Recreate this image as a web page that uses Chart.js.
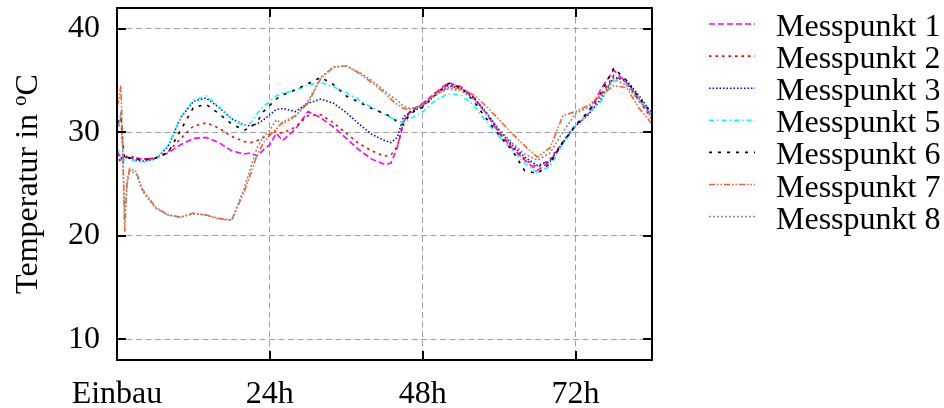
<!DOCTYPE html>
<html>
<head>
<meta charset="utf-8">
<script src="https://cdn.jsdelivr.net/npm/chart.js@4/dist/chart.umd.min.js"></script>
<style>
  html, body { margin: 0; padding: 0; background: #fff; }
  canvas { display: block; }
</style>
</head>
<body>
<canvas id="c" width="944" height="408" style="width:944px;height:408px"></canvas>
<script>
// ---- data (hours since installation, temperatures in °C) ----
const hours = [
  0, 0.3, 0.6, 0.9, 1.2, 1.6, 2, 3, 4,
  6, 8, 10, 12, 14, 16, 18, 20,
  21, 22, 23, 24, 25, 26,
  28, 30, 32, 34, 36, 38, 40, 42,
  43, 44, 45, 46,
  48, 50, 52, 54, 56, 58, 60, 62, 64, 66,
  68, 70, 72, 74, 76, 78, 80, 82, 84
];
const messpunkt1 = [
  28.2, 27.8, 27.4, 27.6, 27.8, 27.6, 27.5, 27.5, 27.4,
  27.5, 28.0, 28.8, 29.4, 29.5, 29.0, 28.2, 27.9,
  28.0, 27.7, 28.3, 28.8, 29.9, 29.2,
  30.3, 32.0, 31.4, 30.5, 29.4, 28.3, 27.4, 26.9,
  27.0, 28.5, 31.0, 32.0,
  32.8, 33.8, 34.8, 34.4, 33.4, 31.8, 29.9, 28.5, 27.3, 26.3,
  27.2, 29.0, 30.6, 31.8, 34.2, 36.0, 34.8, 33.2, 31.5
];
const messpunkt2 = [
  28.0, 27.5, 27.0, 27.0, 27.5, 27.7, 27.7, 27.5, 27.4,
  27.5, 28.1, 29.4, 30.6, 30.9, 30.4, 29.6, 29.1,
  29.0, 29.2, 29.5, 29.8, 30.1, 29.9,
  30.5, 31.6, 31.7, 30.9, 29.9, 28.9, 28.2, 27.7,
  27.8, 28.6, 31.0, 32.0,
  32.7, 33.8, 34.6, 34.3, 33.3, 31.8, 30.0, 28.6, 27.4, 26.6,
  27.4, 29.1, 30.7, 31.8, 33.6, 35.5, 34.8, 33.0, 31.3
];
const messpunkt3 = [
  27.7, 27.9, 27.6, 27.3, 27.5, 27.6, 27.5, 27.3, 27.2,
  27.4, 28.6, 31.4, 33.0, 33.3, 32.4, 31.3, 30.7,
  30.6, 30.8, 31.2, 31.7, 32.2, 32.3,
  32.0, 32.8, 33.2, 32.8, 31.9, 30.8, 29.8, 29.2,
  29.0, 29.5, 31.5, 31.9,
  32.5, 33.6, 34.5, 34.2, 33.3, 31.9, 30.2, 28.8, 27.6, 26.8,
  27.2, 29.0, 30.6, 31.7, 33.2, 35.3, 35.0, 33.5, 31.8
];
const messpunkt5 = [
  28.5, 28.0, 27.5, 27.2, 27.4, 27.5, 27.4, 27.2, 27.1,
  27.4, 28.7, 31.5, 33.1, 33.5, 32.5, 31.3, 30.6,
  30.9, 31.8, 32.5, 33.0, 33.5, 33.8,
  34.0, 34.6, 34.8, 34.4, 33.8, 33.1, 32.4, 31.7,
  31.4, 31.2, 30.9, 31.3,
  32.0, 33.1, 33.7, 33.6, 32.6, 31.0, 29.6, 28.3, 27.0, 26.1,
  26.7, 28.9, 30.6, 31.8, 33.0, 35.0, 34.6, 33.2, 31.7
];
const messpunkt6 = [
  30.0, 31.2, 31.5, 29.0, 27.4, 27.6, 27.5, 27.4, 27.3,
  27.5, 28.0, 30.2, 32.4, 32.7, 31.8, 30.8, 30.2,
  30.5, 31.0, 32.0, 32.6, 33.2, 33.6,
  34.1, 34.7, 35.3, 34.6, 33.5, 32.9, 32.3, 31.8,
  31.5, 31.0, 30.7, 31.8,
  32.4, 33.6, 34.7, 34.3, 33.0, 31.3, 29.7, 28.3, 26.3, 26.0,
  27.0, 29.0, 30.7, 32.0, 33.8, 36.2, 35.0, 33.3, 31.8
];
const messpunkt7 = [
  32.5, 33.2, 34.5, 29.0, 20.4, 25.5, 26.5, 26.2, 24.5,
  22.8, 22.0, 21.8, 22.2, 22.0, 21.7, 21.5, 24.3,
  26.0, 27.8, 29.0, 29.7, 30.3, 31.0,
  31.6, 32.8, 35.2, 36.3, 36.4, 35.7, 34.8, 33.8,
  33.2, 32.7, 32.3, 32.2,
  32.6, 33.7, 34.3, 34.2, 33.6, 32.5, 31.2, 29.9, 28.7, 27.6,
  28.5, 31.6, 32.0, 32.6, 33.6, 34.5, 34.3, 32.3, 30.8
];
const messpunkt8 = [
  31.5, 30.5, 32.0, 28.0, 21.5, 25.0, 26.3, 26.0, 24.3,
  22.7, 22.0, 21.8, 22.1, 22.0, 21.6, 21.5, 24.6,
  26.6, 28.5, 29.6, 30.2, 31.2, 30.8,
  31.5, 33.0, 35.3, 36.3, 36.4, 35.8, 35.0, 34.0,
  33.5, 33.1, 32.5, 32.3,
  32.6, 33.6, 34.2, 34.0, 33.2, 31.8, 30.3, 29.0, 27.9, 27.3,
  28.0, 30.0, 31.8, 32.4, 33.5, 35.2, 34.5, 33.0, 31.4
];
const seriesNames = ['Messpunkt 1', 'Messpunkt 2', 'Messpunkt 3', 'Messpunkt 5', 'Messpunkt 6', 'Messpunkt 7', 'Messpunkt 8'];
const xTickValues = [0, 24, 48, 72];
const xTickLabels = ['Einbau', '24h', '48h', '72h'];
const yTickValues = [10, 20, 30, 40];

// ---- styles ----
const seriesValues = [messpunkt1, messpunkt2, messpunkt3, messpunkt5, messpunkt6, messpunkt7, messpunkt8];
const seriesColors = ['#ff00ff', '#ff0000', '#0000ff', '#00ffff', '#000000', '#ff5f1f', '#8c8c8c'];
const seriesDashes = [[6, 3], [2.5, 4], [1.5, 2], [5, 3, 1.5, 3], [3, 6], [6, 2, 1.5, 2, 1.5, 2], [2, 2]];
const FONT = "'Liberation Serif', 'Times New Roman', serif";

const datasets = seriesValues.map((vals, i) => ({
  label: seriesNames[i],
  data: hours.map((h, k) => ({ x: h, y: vals[k] })),
  borderColor: seriesColors[i],
  borderDash: seriesDashes[i],
  borderWidth: 1.6,
  pointRadius: 0,
  fill: false,
  tension: 0,
  order: seriesValues.length - i
}));

const decor = {
  id: 'decor',
  afterDraw(chart) {
    const ctx = chart.ctx;
    const a = chart.chartArea;
    const xs = chart.scales.x, ys = chart.scales.y;
    ctx.save();
    ctx.setLineDash([]);
    ctx.strokeStyle = '#000';
    ctx.lineWidth = 2;
    ctx.strokeRect(a.left, a.top, a.right - a.left, a.bottom - a.top);
    ctx.beginPath();
    yTickValues.forEach(v => {
      const y = Math.round(ys.getPixelForValue(v));
      ctx.moveTo(a.left, y); ctx.lineTo(a.left + 9, y);
      ctx.moveTo(a.right, y); ctx.lineTo(a.right - 9, y);
    });
    xTickValues.forEach(v => {
      const x = Math.round(xs.getPixelForValue(v));
      ctx.moveTo(x, a.bottom); ctx.lineTo(x, a.bottom - 9);
      ctx.moveTo(x, a.top); ctx.lineTo(x, a.top + 9);
    });
    ctx.stroke();

    // legend
    seriesNames.forEach((name, i) => {
      const y = 24 + i * 32.1;
      ctx.beginPath();
      ctx.setLineDash(seriesDashes[i]);
      ctx.strokeStyle = seriesColors[i];
      ctx.lineWidth = 1.6;
      ctx.moveTo(709, y); ctx.lineTo(755, y);
      ctx.stroke();
      ctx.setLineDash([]);
      ctx.fillStyle = '#000';
      ctx.font = '32px ' + FONT;
      ctx.textAlign = 'left';
      ctx.textBaseline = 'alphabetic';
      ctx.fillText(name, 776, y + 12);
    });

    // y axis title with superscript
    ctx.translate(37, (a.top + a.bottom) / 2);
    ctx.rotate(-Math.PI / 2);
    ctx.fillStyle = '#000';
    ctx.textBaseline = 'alphabetic';
    ctx.textAlign = 'left';
    const main = 'Temperatur in ';
    ctx.font = '32px ' + FONT;
    const w1 = ctx.measureText(main).width;
    const wC = ctx.measureText('C').width;
    ctx.font = '21px ' + FONT;
    const wo = ctx.measureText('o').width;
    const total = w1 + wo + wC;
    const x0 = -total / 2;
    ctx.font = '32px ' + FONT;
    ctx.fillText(main, x0, 0);
    ctx.font = '21px ' + FONT;
    ctx.fillText('o', x0 + w1, -11);
    ctx.font = '32px ' + FONT;
    ctx.fillText('C', x0 + w1 + wo, 0);
    ctx.restore();
  }
};

new Chart(document.getElementById('c'), {
  type: 'line',
  data: { datasets },
  options: {
    responsive: false,
    devicePixelRatio: 1,
    animation: false,
    layout: { padding: { left: 0, top: 8, right: 292, bottom: 0 } },
    plugins: { legend: { display: false }, tooltip: { enabled: false }, title: { display: false } },
    scales: {
      x: {
        type: 'linear',
        min: 0, max: 84,
        afterBuildTicks: s => { s.ticks = xTickValues.map(v => ({ value: v })); },
        afterFit: s => { s.height = 48; s.paddingLeft = 0; s.paddingRight = 0; },
        ticks: {
          autoSkip: false, maxRotation: 0, minRotation: 0,
          padding: 15,
          color: '#000',
          font: { family: FONT, size: 32 },
          callback: v => xTickLabels[xTickValues.indexOf(v)]
        },
        grid: { color: '#a0a0a0', lineWidth: 1, drawTicks: false },
        border: { display: false, dash: [6, 3.5] }
      },
      y: {
        type: 'linear',
        min: 8, max: 42,
        afterBuildTicks: s => { s.ticks = yTickValues.map(v => ({ value: v })); },
        afterFit: s => { s.width = 117; s.paddingTop = 0; s.paddingBottom = 0; },
        ticks: {
          padding: 17,
          color: '#000',
          font: { family: FONT, size: 32 },
          callback: v => String(v)
        },
        grid: { color: '#a0a0a0', lineWidth: 1, drawTicks: false },
        border: { display: false, dash: [6, 3.5] }
      }
    }
  },
  plugins: [decor]
});
</script>
</body>
</html>
